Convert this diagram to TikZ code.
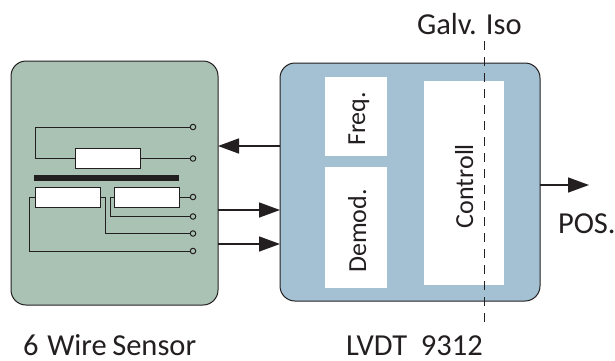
\documentclass[tikz,border=0pt]{standalone}
\usepackage{fontspec}
\setmainfont{Carlito}
\usetikzlibrary{arrows.meta,calc}
\definecolor{sensorgreen}{HTML}{A9C2B3}
\definecolor{lvdtblue}{HTML}{A3C1D3}
\definecolor{ink}{HTML}{231F20}
\tikzset{
  x=1pt,y=-1pt,
  panel/.style={draw=ink,line width=1pt,rounded corners=15pt,inner sep=0pt,outer sep=0pt},
  block/.style={fill=white,inner sep=0pt,outer sep=0pt},
  blocktext/.style={rotate=90,anchor=base,text=ink,inner sep=0pt,outer sep=0pt,font=\fontsize{26}{26}\selectfont},
  coil/.style={draw=ink,fill=white,line width=1pt,inner sep=0pt,outer sep=0pt,minimum width=65pt,minimum height=20pt},
  pin/.style={circle,draw=ink,fill=sensorgreen,line width=1pt,minimum size=5.5pt,inner sep=0pt,outer sep=0pt},
  wire/.style={draw=ink,line width=1pt},
  flow/.style={draw=ink,line width=1.5pt,-{Triangle[length=21pt,width=15pt]}},
  caption/.style={text=ink,inner sep=0pt,outer sep=0pt,font=\fontsize{30.5}{30.5}\selectfont},
}
\begin{document}
\begin{tikzpicture}
\useasboundingbox (0,0) rectangle (615,360);
% panels
\node[panel,fill=sensorgreen,minimum width=207pt,minimum height=244pt] (sensor) at (114.5,183) {};
\node[panel,fill=lvdtblue,minimum width=260pt,minimum height=238pt] (lvdt) at (410,182) {};
% LVDT blocks
\node[block,minimum width=62pt,minimum height=79pt] (freq) at (356,116.5) {};
\node[block,minimum width=62pt,minimum height=121pt] (demod) at (356,227.5) {};
\node[block,minimum width=80pt,minimum height=204pt] (control) at (464,183) {};
\node[blocktext] (freqtext) at (365,119) {Freq.};
\node[blocktext] (demodtext) at (366,231) {Demod.};
\node[blocktext] (controltext) at (473,186) {Controll};
% isolation line
\coordinate (isotop) at (484,41);
\coordinate (isobot) at (484,325);
\draw[draw=ink,line width=1pt,dash pattern=on 9pt off 7pt] (isotop) -- (isobot);
% sensor internals
\node[coil] (r1) at (107.5,158.5) {};
\node[coil] (r2) at (68,197) {};
\node[coil] (r3) at (146.5,197) {};
\fill[ink] (34,175) rectangle (178.5,181);
\node[pin] (p1) at (193,127) {};
\node[pin] (p2) at (193,158.5) {};
\node[pin] (p3) at (193,197) {};
\node[pin] (p4) at (193,216.5) {};
\node[pin] (p5) at (193,233.5) {};
\node[pin] (p6) at (193,251) {};
\draw[wire] (p1.west) -- (35,127) -- (35,158.5) -- (r1.west);
\draw[wire] (r1.east) -- (p2.west);
\draw[wire] (r3.east) -- (p3.west);
\draw[wire] (r3.west) -- (110,197) -- (110,216.5) -- (p4.west);
\draw[wire] (r2.east) -- (105,197) -- (105,233.5) -- (p5.west);
\draw[wire] (r2.west) -- (29,197) -- (29,251) -- (p6.west);
% signal arrows
\draw[flow] (lvdt.west |- 0,146) -- (sensor.east |- 0,146);
\draw[flow] (sensor.east |- 0,210) -- (lvdt.west |- 0,210);
\draw[flow] (sensor.east |- 0,244) -- (lvdt.west |- 0,244);
\coordinate (posend) at (589,185);
\draw[flow] (lvdt.east |- posend) -- (posend);
% captions
\node[caption,anchor=base west] (galv) at (417,34) {Galv. Iso};
\node[caption,anchor=base west] (pos) at (558,233) {POS.};
\node[caption,anchor=base west] (lvdtname) at (346,355.5) {LVDT\ \ 9312};
\node[caption,anchor=base west] (sensorname) at (23,355.5) {6\kern2pt\ Wire\kern-1.5pt\ Sensor};
\end{tikzpicture}
\end{document}
